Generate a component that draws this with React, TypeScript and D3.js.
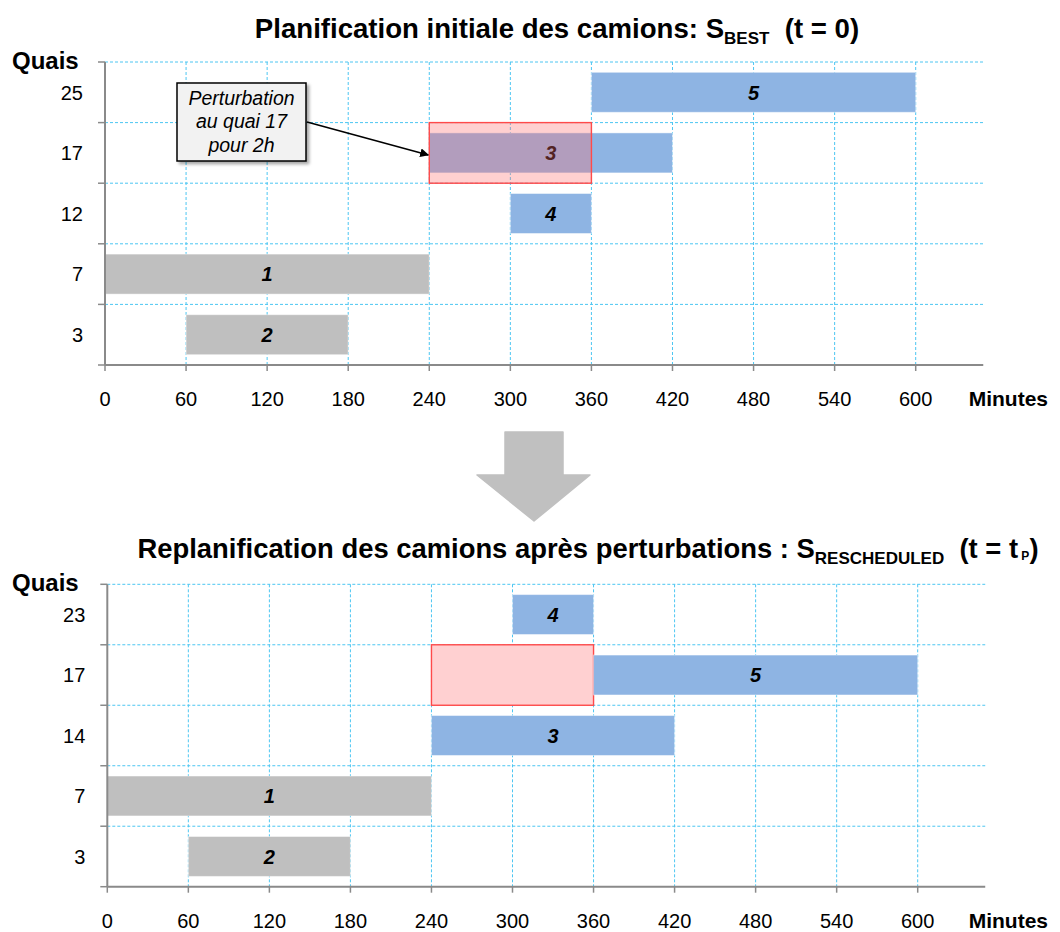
import * as d3 from 'd3';

// Axis ticks (minutes)
const minuteTicks = [0, 60, 120, 180, 240, 300, 360, 420, 480, 540, 600];
const minuteMax = 650;

// Initial schedule S_BEST (t = 0)
const bestQuays = ['25', '17', '12', '7', '3'];
const bestTrucks = ['1', '2', '3', '4', '5'];
const bestDock = ['7', '3', '17', '12', '25'];
const bestStart = [0, 60, 240, 300, 360];
const bestEnd = [240, 180, 420, 360, 600];

// Rescheduled S_RESCHEDULED (t = tP)
const reschedQuays = ['23', '17', '14', '7', '3'];
const reschedTrucks = ['1', '2', '3', '4', '5'];
const reschedDock = ['7', '3', '14', '23', '17'];
const reschedStart = [0, 60, 240, 300, 360];
const reschedEnd = [240, 180, 420, 360, 600];

// Perturbation: quai 17 for 2h
const perturbQuay = '17';
const perturbStart = 240;
const perturbEnd = 360;

// trucks already in progress are grey, the others blue
const truckColor: Record<string, string> = {
  '1': '#bfbfbf',
  '2': '#bfbfbf',
  '3': '#8eb4e3',
  '4': '#8eb4e3',
  '5': '#8eb4e3',
};

const FONT = 'Liberation Sans, Arial, sans-serif';
const GRID = '#4cc6f2';
const AXIS = '#8a8a8a';

interface GanttProps {
  left: number;
  right600: number;
  top: number;
  bottom: number;
  quays: string[];
  trucks: string[];
  dock: string[];
  start: number[];
  end: number[];
  overlay: boolean; // perturbation drawn on top (semi-transparent)
}

function Gantt({ left, right600, top, bottom, quays, trucks, dock, start, end, overlay }: GanttProps) {
  const x = d3.scaleLinear().domain([0, 600]).range([left, right600]);
  const y = d3.scaleBand<string>().domain(quays).range([top, bottom]).padding(0);
  const bw = y.bandwidth();
  const inset = bw * 0.17;
  const xEnd = x(minuteMax);
  const boundaries = quays.map(q => y(q) ?? 0).concat([bottom]);

  const pY = y(perturbQuay) ?? 0;
  const perturb = (
    <rect
      x={x(perturbStart)}
      y={pY}
      width={x(perturbEnd) - x(perturbStart)}
      height={bw}
      fill={overlay ? 'rgba(255,110,108,0.32)' : '#ffd0d1'}
      stroke="#ff4a4a"
      strokeWidth={1.4}
    />
  );

  return (
    <g>
      {/* grid */}
      {boundaries.slice(0, -1).map((b, i) => (
        <line key={'h' + i} x1={left} x2={xEnd} y1={b} y2={b} stroke={GRID} strokeWidth={1} strokeDasharray="3,2" />
      ))}
      {minuteTicks.slice(1).map(t => (
        <line key={'v' + t} x1={x(t)} x2={x(t)} y1={top} y2={bottom} stroke={GRID} strokeWidth={1} strokeDasharray="3,2" />
      ))}

      {!overlay && perturb}

      {/* bars */}
      {trucks.map((t, i) => {
        const by = (y(dock[i]) ?? 0) + inset;
        const x0 = x(start[i]);
        const x1 = x(end[i]);
        return (
          <g key={'b' + t}>
            <rect x={x0} y={by} width={x1 - x0} height={bw - 2 * inset} fill={truckColor[t]} stroke="#ffffff" strokeOpacity={0.45} strokeWidth={1} />
            <text
              x={(x0 + x1) / 2}
              y={by + (bw - 2 * inset) / 2}
              dy="0.36em"
              textAnchor="middle"
              fontFamily={FONT}
              fontWeight="bold"
              fontStyle="italic"
              fontSize={20}
              fill="#000"
            >
              {t}
            </text>
          </g>
        );
      })}

      {overlay && perturb}

      {/* y axis */}
      <line x1={left} x2={left} y1={top} y2={bottom} stroke={AXIS} strokeWidth={2} />
      {boundaries.map((b, i) => (
        <line key={'yt' + i} x1={left - 7} x2={left} y1={b} y2={b} stroke={AXIS} strokeWidth={1.5} />
      ))}
      {quays.map(q => (
        <text key={'yl' + q} x={left - 22} y={(y(q) ?? 0) + bw / 2} dy="0.36em" textAnchor="end" fontFamily={FONT} fontSize={20} fill="#000">
          {q}
        </text>
      ))}

      {/* x axis */}
      <line x1={left} x2={xEnd} y1={bottom} y2={bottom} stroke={AXIS} strokeWidth={2} />
      {minuteTicks.map(t => (
        <g key={'xt' + t}>
          <line x1={x(t)} x2={x(t)} y1={bottom} y2={bottom + 6} stroke={AXIS} strokeWidth={1.5} />
          <text x={x(t)} y={bottom + 41} textAnchor="middle" fontFamily={FONT} fontSize={20} fill="#000">
            {t}
          </text>
        </g>
      ))}
      <text x={1048} y={bottom + 41} textAnchor="end" fontFamily={FONT} fontWeight="bold" fontSize={21} fill="#000">
        Minutes
      </text>
      <text x={12} y={top + 7} fontFamily={FONT} fontWeight="bold" fontSize={24} fill="#000">
        Quais
      </text>
    </g>
  );
}

export default function App() {
  // annotation arrow target: left edge of perturbation on quai 17 (top chart)
  const xTop = d3.scaleLinear().domain([0, 600]).range([105, 915.7]);
  const yTop = d3.scaleBand<string>().domain(bestQuays).range([62, 365]);
  const arrowX = xTop(perturbStart);
  const arrowY = (yTop(perturbQuay) ?? 0) + yTop.bandwidth() / 2 + 2;

  return (
    <svg width={1060} height={932} style={{ position: 'absolute', left: 0, top: 0, background: '#fff' }}>
      <defs>
        <filter id="shadow" x="-20%" y="-20%" width="150%" height="150%">
          <feDropShadow dx="2.5" dy="2.5" stdDeviation="1.6" floodColor="#000" floodOpacity="0.35" />
        </filter>
        <marker id="arrowHead" viewBox="0 0 10 10" refX="9" refY="5" markerWidth="9" markerHeight="9" markerUnits="userSpaceOnUse" orient="auto">
          <path d="M0,0 L10,5 L0,10 z" fill="#000" />
        </marker>
      </defs>

      {/* top title */}
      <text x={557} y={38} textAnchor="middle" fontFamily={FONT} fontWeight="bold" fontSize={27.6} fill="#000">
        Planification initiale des camions: S
        <tspan fontSize={17} dy={6}>BEST</tspan>
        <tspan dy={-6}>{'\u00a0 (t = 0)'}</tspan>
      </text>

      <Gantt
        left={105}
        right600={915.7}
        top={62}
        bottom={365}
        quays={bestQuays}
        trucks={bestTrucks}
        dock={bestDock}
        start={bestStart}
        end={bestEnd}
        overlay={true}
      />

      {/* annotation */}
      <line x1={307} y1={122} x2={arrowX - 1} y2={arrowY} stroke="#000" strokeWidth={1.6} markerEnd="url(#arrowHead)" />
      <rect x={177} y={83} width={129} height={78} fill="#f2f2f2" stroke="#000" strokeWidth={1.5} filter="url(#shadow)" />
      {['Perturbation', 'au quai 17', 'pour 2h'].map((line, i) => (
        <text key={line} x={241.5} y={105 + i * 23.4} textAnchor="middle" fontFamily={FONT} fontStyle="italic" fontSize={19.5} fill="#000">
          {line}
        </text>
      ))}

      {/* big transition arrow */}
      <polygon points="505,432 563,432 563,475 590,475 534,521 477,475 505,475" fill="#c0c0c0" stroke="#c0c0c0" strokeWidth={1.5} strokeLinejoin="round" />

      {/* bottom title */}
      <text x={588} y={558} textAnchor="middle" fontFamily={FONT} fontWeight="bold" fontSize={27.4} fill="#000">
        Replanification des camions après perturbations : S
        <tspan fontSize={17} dy={6}>RESCHEDULED</tspan>
        <tspan dy={-6}>{'\u00a0 (t = t'}</tspan>
        <tspan fontSize={12} dy={2}>{'\u00a0P'}</tspan>
        <tspan dy={-2}>)</tspan>
      </text>

      <Gantt
        left={107.3}
        right600={917.7}
        top={584.3}
        bottom={886.7}
        quays={reschedQuays}
        trucks={reschedTrucks}
        dock={reschedDock}
        start={reschedStart}
        end={reschedEnd}
        overlay={false}
      />
    </svg>
  );
}
